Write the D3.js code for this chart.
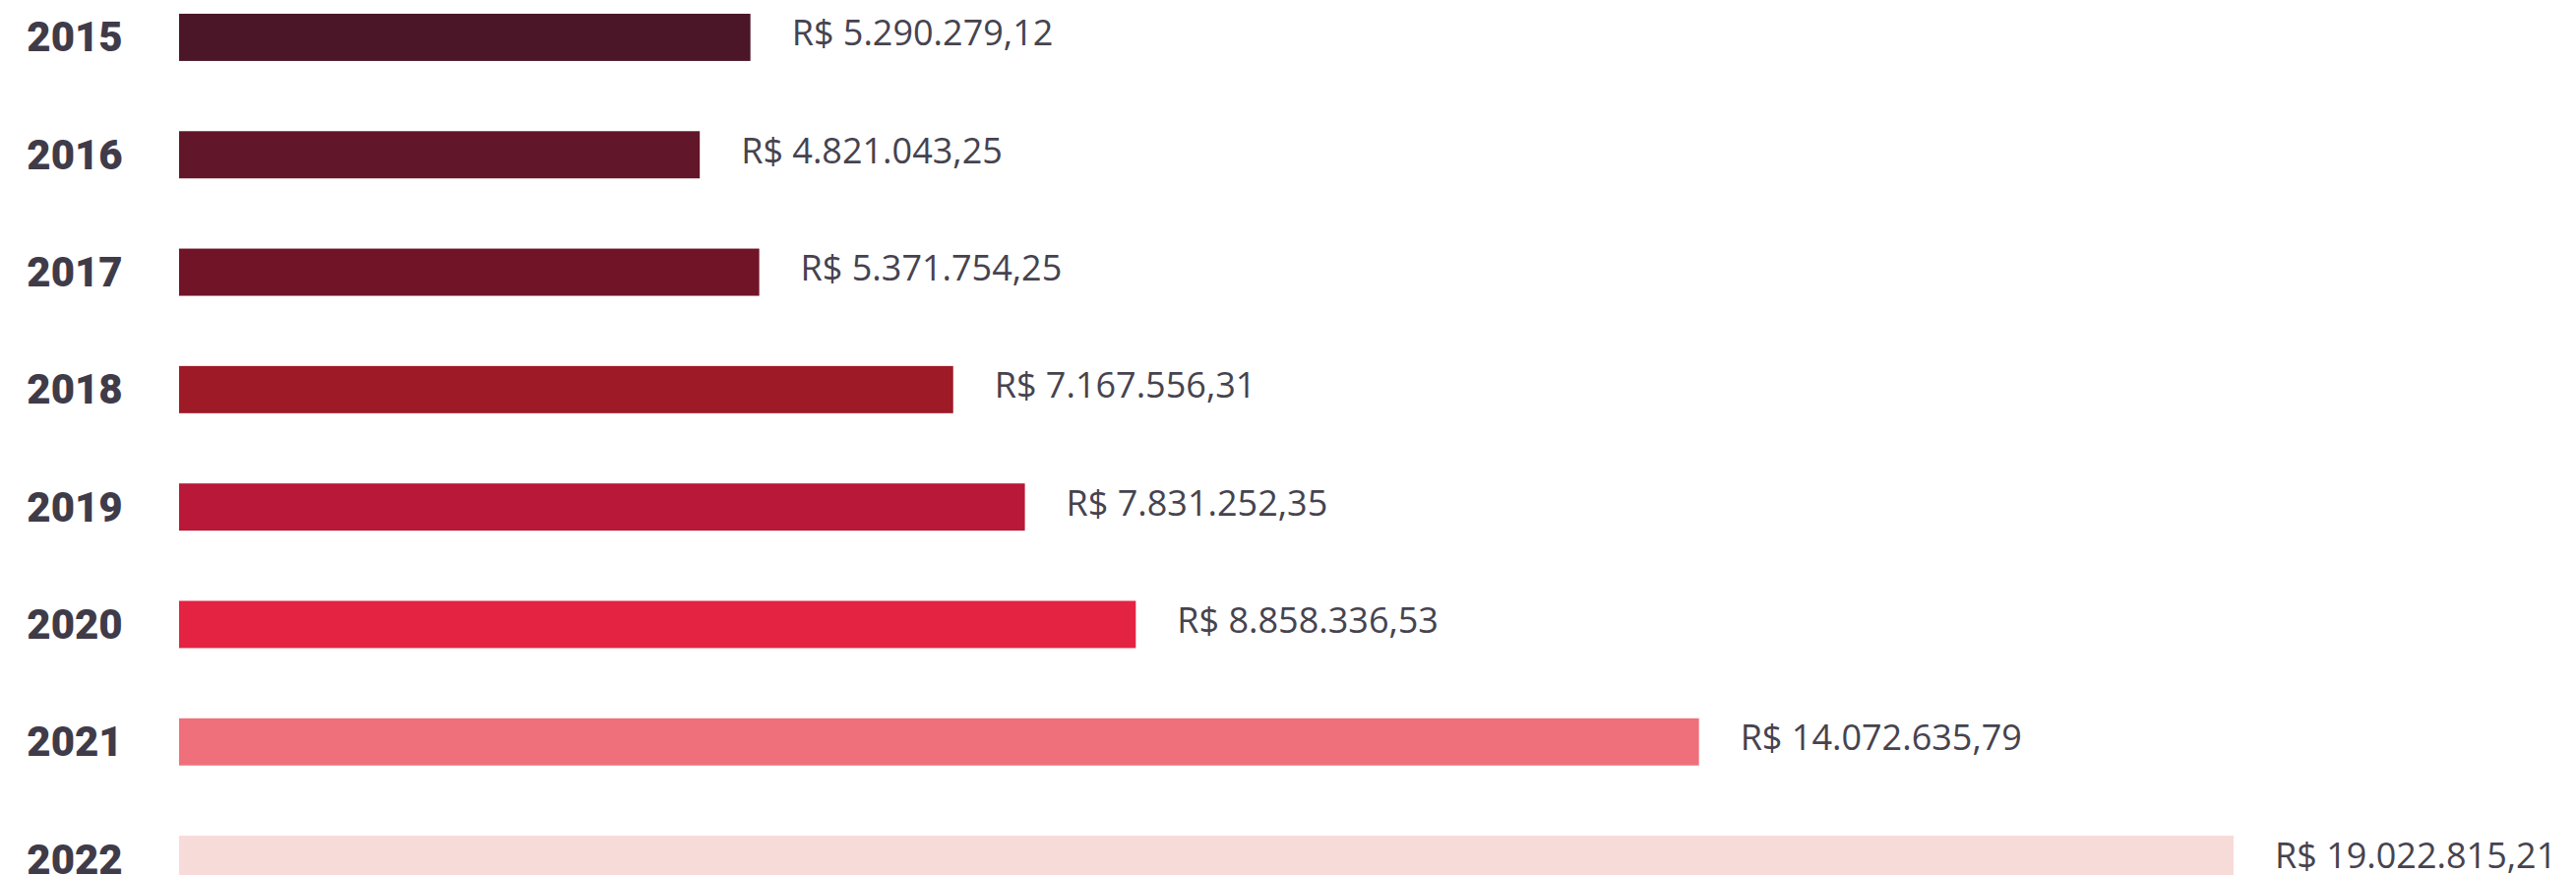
<!DOCTYPE html>
<html>
<head>
<meta charset="utf-8">
<script src="https://cdn.jsdelivr.net/npm/d3@7"></script>
<style>
  html, body { margin: 0; padding: 0; background: #ffffff; overflow: hidden; }
  svg { display: block; }
</style>
</head>
<body>
<svg id="chart" width="2618" height="889"></svg>
<script>
const years  = ["2015", "2016", "2017", "2018", "2019", "2020", "2021", "2022"];
const values = [5290279.12, 4821043.25, 5371754.25, 7167556.31, 7831252.35, 8858336.53, 14072635.79, 19022815.21];
const colors = ["#4a1628", "#62162a", "#721428", "#9e1a27", "#b91838", "#e42242", "#ef707b", "#f7dbd9"];

const W = 2618, H = 889;
const svg = d3.select("#chart");

const x = d3.scaleLinear()
  .domain([0, d3.max(values)])
  .range([182, 2270]);

const y = d3.scaleBand()
  .domain(years)
  .range([-21.7, 932.7])
  .paddingInner(0.598)
  .paddingOuter(0.299);

const br = d3.formatLocale({ decimal: ",", thousands: ".", grouping: [3], currency: ["R$ ", ""] });
const fmt = br.format("$,.2f");

const data = years.map((yr, i) => ({ year: yr, value: values[i], color: colors[i] }));

svg.append("g").selectAll("rect")
  .data(data)
  .join("rect")
  .attr("x", x(0))
  .attr("y", d => y(d.year))
  .attr("width", d => x(d.value) - x(0))
  .attr("height", y.bandwidth())
  .attr("fill", d => d.color);

svg.append("g").selectAll("text")
  .data(data)
  .join("text")
  .attr("x", 76)
  .attr("y", d => y(d.year) + y.bandwidth() / 2)
  .attr("text-anchor", "middle")
  .attr("dominant-baseline", "central")
  .attr("font-family", "Roboto, 'Open Sans', sans-serif")
  .attr("font-weight", 900)
  .attr("font-size", 42)
  .attr("fill", "#3f3b49")
  .text(d => d.year);

svg.append("g").selectAll("text")
  .data(data)
  .join("text")
  .attr("x", d => x(d.value) + 42)
  .attr("y", d => y(d.year) + y.bandwidth() / 2 - 5)
  .attr("dominant-baseline", "central")
  .attr("font-family", "'Open Sans', sans-serif")
  .attr("font-size", 36)
  .attr("fill", "#46434f")
  .text(d => fmt(d.value));
</script>
</body>
</html>
